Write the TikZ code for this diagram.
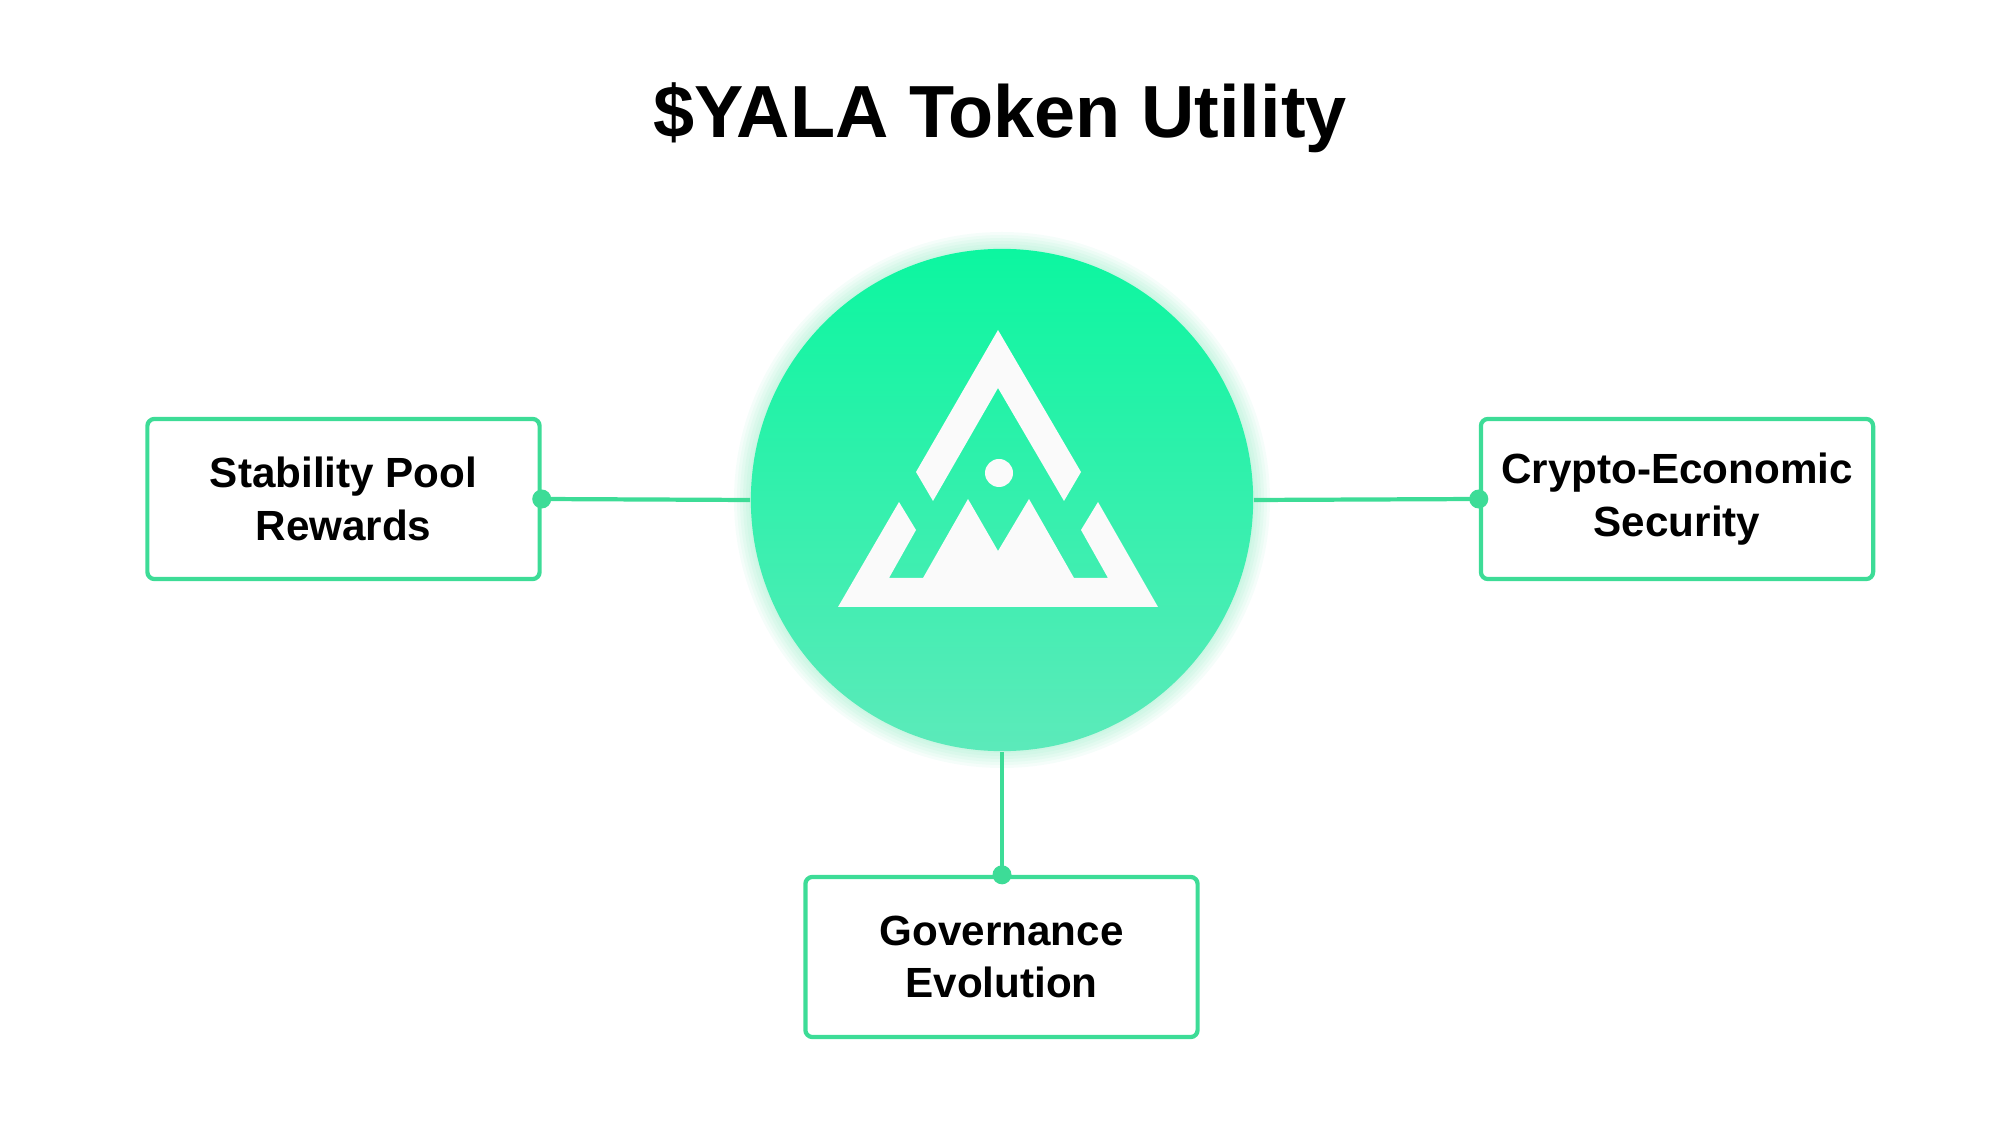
\documentclass[tikz,border=0pt]{standalone}
\usepackage{fontspec}
\setmainfont{Liberation Sans}
\usetikzlibrary{positioning, calc}
\definecolor{yalagreen}{RGB}{61, 220, 151}
\definecolor{hubtop}{RGB}{12, 246, 160}
\definecolor{hubbottom}{RGB}{92, 234, 186}
\definecolor{logowhite}{RGB}{250, 250, 250}

\begin{document}
\begin{tikzpicture}[x=0.01cm, y=-0.01cm,
        utility/.style={draw=yalagreen, line width=1.2pt, rounded corners=2pt, minimum width=3.92cm, minimum height=1.6cm, align=center, font=\fontsize{12}{15}\selectfont\bfseries},
        link/.style={draw=yalagreen, line width=1.2pt},
        joint/.style={circle, fill=yalagreen, inner sep=0pt, minimum size=0.19cm}
    ]
        \useasboundingbox (0,0) rectangle (2000,1125);

        % Title
        \node[font=\fontsize{21}{26}\selectfont\bfseries] (title) at (1000,118) {\$YALA Token Utility};

        % Glow and hub
        \foreach \r in {253,256,...,268}
            \fill[yalagreen, opacity=0.05] (1002,500) circle (\r);
        \node[circle, minimum size=5.02cm, inner sep=0pt, top color=hubtop, bottom color=hubbottom, draw=none] (hub) at (1002,500) {};

        % Logo
        \fill[logowhite] (916,472) -- (998,330) -- (1081,472) -- (1064,501) -- (998,388) -- (933,501) -- cycle;
        \fill[logowhite] (999,473) circle (14);
        \fill[logowhite] (838,607) -- (899,502) -- (916,530) -- (889,578) -- (923,578) -- (968,499) -- (998,551)
            -- (1029,499) -- (1074,578) -- (1108,578) -- (1081,530) -- (1098,502) -- (1158,607) -- cycle;

        % Utilities
        \node[utility] (pool) at (343.5,499) {Stability Pool\\Rewards};
        \node[utility] (security) at (1677,499) {Crypto-Economic\\Security};
        \node[utility] (governance) at (1001.5,957) {Governance\\Evolution};

        % Links
        \draw[link] (hub.west) -- (pool.east) node[joint] {};
        \draw[link] (hub.east) -- (security.west) node[joint] {};
        \draw[link] (hub.south) -- (hub.south |- governance.north) node[joint] {};
    \end{tikzpicture}
\end{document}
